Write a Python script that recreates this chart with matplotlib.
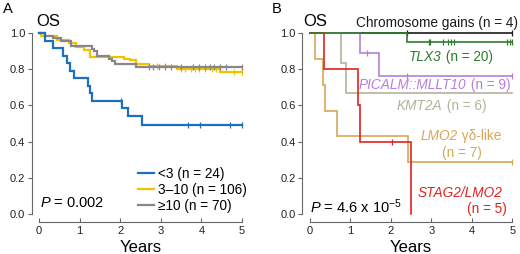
import matplotlib
matplotlib.use("Agg")
import matplotlib.pyplot as plt

plt.rcParams['font.family'] = ['Liberation Sans', 'DejaVu Sans']
plt.rcParams['mathtext.fontset'] = 'custom'
plt.rcParams['mathtext.rm'] = 'Liberation Sans'
plt.rcParams['mathtext.it'] = 'Liberation Sans:italic'

# ---- panel A: OS by group size ----
a_names = ["<3 (n = 24)", "3\u201310 (n = 106)", "\u226510 (n = 70)"]
a_colors = ["#1f6fc0", "#f2c200", "#878787"]
a_times = [
    [0, 0.15, 0.35, 0.6, 0.68, 0.76, 0.85, 1.21, 1.26, 1.3, 2.04, 2.2, 2.53],
    [0, 0.05, 0.45, 0.75, 0.92, 1.1, 1.25, 2.1, 2.25, 2.4, 2.7, 3.4, 4.45],
    [0, 0.15, 0.35, 0.55, 0.8, 1.3, 1.36, 1.42, 1.72, 1.8, 1.87, 2.38],
]
a_surv = [
    [1.0, 0.958, 0.917, 0.875, 0.833, 0.792, 0.75, 0.708, 0.667, 0.625, 0.583, 0.542, 0.49],
    [1.0, 0.981, 0.962, 0.943, 0.925, 0.906, 0.868, 0.858, 0.849, 0.83, 0.82, 0.801, 0.786],
    [1.0, 0.986, 0.971, 0.957, 0.929, 0.914, 0.90, 0.871, 0.857, 0.843, 0.828, 0.81],
]
a_censor = [
    [2.02, 3.68, 3.96, 4.70, 5.0],
    [2.9, 3.1, 3.5, 3.6, 3.75, 3.85, 3.95, 4.1, 4.25, 4.35, 4.8, 5.0],
    [2.7, 2.8, 2.95, 3.1, 3.25, 3.5, 3.8, 3.95, 4.1, 4.2, 4.3, 4.45, 4.6, 5.0],
]
a_end = [5.0, 5.0, 5.0]

# ---- panel B: OS by subtype ----
b_colors = ["#1a1a1a", "#2e7d2e", "#b47fdb", "#b3b39b", "#d9a658", "#e2231f"]
b_times = [
    [0],
    [0, 2.4],
    [0, 1.24, 1.71],
    [0, 0.77, 0.89],
    [0, 0.13, 0.34, 0.38, 0.67, 2.42],
    [0, 0.36, 1.2, 1.24, 2.5],
]
b_surv = [
    [1.0],
    [1.0, 0.95],
    [1.0, 0.889, 0.762],
    [1.0, 0.833, 0.667],
    [1.0, 0.857, 0.714, 0.571, 0.429, 0.286],
    [1.0, 0.8, 0.6, 0.4, 0.0],
]
b_censor = [
    [2.4, 5.0],
    [2.94, 2.98, 3.3, 3.42, 3.48, 3.55, 4.86, 4.94, 5.0],
    [1.41, 2.4, 5.0],
    [],
    [5.0],
    [2.02],
]
b_end = [5.0, 5.0, 5.0, 5.0, 5.0, 2.5]
b_order = [0, 2, 3, 4, 5, 1]  # green drawn on top along 1.0

W, H = 520, 254
fig = plt.figure(figsize=(W / 100, H / 100), dpi=100)
axA = fig.add_axes([39 / W, 1 - 214 / H, 203 / W, 181 / H])
axB = fig.add_axes([309.7 / W, 1 - 214 / H, 202.6 / W, 181 / H])


def km(ax, t, s, cens, end, color, lw, zorder=2, label=None):
    xs = list(t) + [end]
    ys = list(s) + [s[-1]]
    ax.step(xs, ys, where='post', color=color, lw=lw, clip_on=False,
            zorder=zorder, label=label, solid_joinstyle='miter')
    if cens:
        cy = []
        for c in cens:
            k = max(i for i in range(len(t)) if t[i] <= c)
            cy.append(s[k])
        ax.plot(cens, cy, ls='none', marker='|', ms=4, mew=0.9,
                color=color, clip_on=False, zorder=zorder)


def style(ax):
    ax.set_xlim(0, 5)
    ax.set_ylim(0, 1)
    for sp in ['top', 'right']:
        ax.spines[sp].set_visible(False)
    ax.spines['left'].set_position(('outward', 5.4))
    ax.spines['bottom'].set_position(('outward', 5.8))
    ax.spines['left'].set_bounds(0, 1)
    ax.spines['bottom'].set_bounds(0, 5)
    for sp in ['left', 'bottom']:
        ax.spines[sp].set_color('#666666')
        ax.spines[sp].set_linewidth(0.8)
    ax.set_xticks(range(6))
    ax.set_yticks([0, 0.2, 0.4, 0.6, 0.8, 1.0])
    ax.set_yticklabels(["0.0", "0.2", "0.4", "0.6", "0.8", "1.0"])
    ax.tick_params(axis='y', direction='out', length=3, width=0.8,
                   color='#666666', labelsize=8, pad=1.5, labelcolor='#222222')
    ax.tick_params(axis='x', direction='in', length=3, width=0.8,
                   color='#666666', labelsize=8, pad=3, labelcolor='#222222')
    ax.set_xlabel("Years", fontsize=12, labelpad=3)
    ax.patch.set_visible(False)


for i in range(3):
    km(axA, a_times[i], a_surv[i], a_censor[i], a_end[i], a_colors[i], 1.6,
       zorder=3 if i == 0 else 2 + i * 0.1, label=a_names[i])
style(axA)
axA.legend(loc='lower left', bbox_to_anchor=(0.44, -0.045), frameon=False,
           fontsize=9.8, handlelength=1.15, handletextpad=0.3, labelspacing=0.15,
           borderpad=0.2)

for z, i in enumerate(b_order):
    km(axB, b_times[i], b_surv[i], b_censor[i], b_end[i], b_colors[i], 1.2,
       zorder=2 + z * 0.1)
style(axB)

# panel letters, titles, p-values
fig.text(3 / W, 1 - 9 / H, "A", fontsize=10.5, va='center', ha='left')
fig.text(272 / W, 1 - 9 / H, "B", fontsize=10.5, va='center', ha='left')
fig.text(36 / W, 1 - 22 / H, "OS", fontsize=12, va='center', ha='left')
fig.text(303 / W, 1 - 22 / H, "OS", fontsize=12, va='center', ha='left')
fig.text(40 / W, 1 - 203 / H, "$\\it{P}$ = 0.002", fontsize=10.5, va='center', ha='left')
fig.text(310 / W, 1 - 207 / H, "$\\it{P}$ = 4.6 x 10$^{-5}$", fontsize=10.5,
         va='center', ha='left')


def glabel(x, y, gene, rest, color):
    t1 = fig.text(x / W, 1 - y / H, gene, fontsize=9.8, style='italic',
                  color=color, va='center', ha='left')
    if rest:
        axA.annotate(rest, xy=(1, 0.5), xycoords=t1, fontsize=9.8,
                     color=color, va='center', ha='left', annotation_clip=False)


fig.text(518 / W, 1 - 23 / H, "Chromosome gains (n = 4)", fontsize=9.8,
         color=b_colors[0], va='center', ha='right')
glabel(409, 57, "TLX3", " (n = 20)", b_colors[1])
glabel(359, 85, "PICALM::MLLT10", " (n = 9)", b_colors[2])
glabel(397, 106, "KMT2A", " (n = 6)", b_colors[3])
glabel(421, 136, "LMO2", " \u03b3\u03b4-like", b_colors[4])
fig.text(442 / W, 1 - 153 / H, "(n = 7)", fontsize=9.8, color=b_colors[4],
         va='center', ha='left')
glabel(418, 193, "STAG2/LMO2", "", b_colors[5])
fig.text(507 / W, 1 - 209 / H, "(n = 5)", fontsize=9.8, color=b_colors[5],
         va='center', ha='right')

fig.savefig("out.png", dpi=100)
